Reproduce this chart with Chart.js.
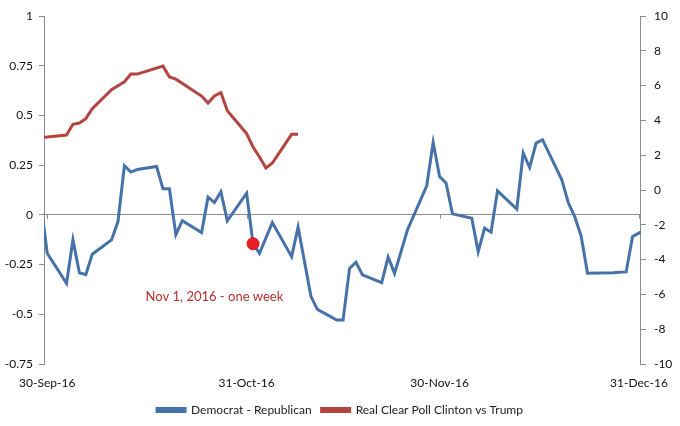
<!DOCTYPE html>
<html>
<head>
<meta charset="utf-8">
<script src="https://cdn.jsdelivr.net/npm/chart.js@4"></script>
<style>
  html, body { margin: 0; padding: 0; background: #fff; }
  #wrap { width: 680px; height: 426px; }
</style>
</head>
<body>
<div id="wrap"><canvas id="chart"></canvas></div>
<script>
// === DATA ===
const seriesNames = ['Democrat - Republican', 'Real Clear Poll Clinton vs Trump'];

const blueDates = [
  '2016-09-29','2016-09-30','2016-10-03','2016-10-04','2016-10-05','2016-10-06','2016-10-07',
  '2016-10-10','2016-10-11','2016-10-12','2016-10-13','2016-10-14','2016-10-17','2016-10-18',
  '2016-10-19','2016-10-20','2016-10-21','2016-10-24','2016-10-25','2016-10-26','2016-10-27',
  '2016-10-28','2016-10-31','2016-11-01','2016-11-02','2016-11-03','2016-11-04','2016-11-07',
  '2016-11-08','2016-11-09','2016-11-10','2016-11-11','2016-11-14','2016-11-15','2016-11-16',
  '2016-11-17','2016-11-18','2016-11-21','2016-11-22','2016-11-23','2016-11-25','2016-11-28',
  '2016-11-29','2016-11-30','2016-12-01','2016-12-02','2016-12-05','2016-12-06','2016-12-07',
  '2016-12-08','2016-12-09','2016-12-12','2016-12-13','2016-12-14','2016-12-15','2016-12-16',
  '2016-12-19','2016-12-20','2016-12-21','2016-12-22','2016-12-23','2016-12-27','2016-12-28',
  '2016-12-29','2016-12-30','2017-01-03'
];
const blueValues = [
  0.06, -0.193, -0.344, -0.126, -0.291, -0.301, -0.198,
  -0.126, -0.034, 0.247, 0.215, 0.228, 0.243, 0.131,
  0.131, -0.10, -0.029, -0.089, 0.089, 0.062, 0.116,
  -0.03, 0.109, -0.145, -0.193, -0.116, -0.039, -0.21,
  -0.062, -0.236, -0.41, -0.475, -0.529, -0.529, -0.269,
  -0.238, -0.302, -0.341, -0.213, -0.294, -0.076, 0.146,
  0.364, 0.193, 0.16, 0.005, -0.017, -0.185, -0.067,
  -0.087, 0.121, 0.029, 0.311, 0.238, 0.361, 0.378,
  0.176, 0.062, -0.009, -0.106, -0.294, -0.291, -0.289,
  -0.287, -0.109, -0.04
];

const redDates = [
  '2016-09-29','2016-09-30','2016-10-03','2016-10-04','2016-10-05','2016-10-06','2016-10-07','2016-10-10',
  '2016-10-12','2016-10-13','2016-10-14','2016-10-18','2016-10-19','2016-10-20','2016-10-24',
  '2016-10-25','2016-10-26','2016-10-27','2016-10-28','2016-10-31','2016-11-01','2016-11-02',
  '2016-11-03','2016-11-04','2016-11-07','2016-11-08'
];
const redValues = [
  3.02, 3.04, 3.16, 3.78, 3.85, 4.1, 4.67, 5.77,
  6.22, 6.66, 6.66, 7.12, 6.5, 6.37, 5.4,
  5.0, 5.4, 5.6, 4.55, 3.24, 2.47, 1.9,
  1.26, 1.55, 3.2, 3.2
];

const markerDate = '2016-11-01';
const annotationText = 'Nov 1, 2016 - one week';
const annotationDate = '2016-10-26';
const annotationValue = -0.41;

const tickDates = ['2016-09-30','2016-10-31','2016-11-30','2016-12-31'];
const tickLabels = ['30-Sep-16','31-Oct-16','30-Nov-16','31-Dec-16'];

// days since 30-Sep-16
const dayOf = s => { const [y,m,d] = s.split('-').map(Number); return (Date.UTC(y,m-1,d) - Date.UTC(2016,8,30)) / 86400000; };

const FONT = 'Lato, "Open Sans", sans-serif';
const BLUE = '#4572a8';
const RED = '#b3443f';
const AXIS = '#8c8c8c';

const bluePts = blueDates.map((d,i) => ({ x: dayOf(d), y: blueValues[i] }));
const redPts = redDates.map((d,i) => ({ x: dayOf(d), y: redValues[i] }));
const markerPts = [{ x: dayOf(markerDate), y: blueValues[blueDates.indexOf(markerDate)] }];
const tickDays = tickDates.map(dayOf);

// small month tick marks on the zero line + the red note
const annotate = {
  id: 'annotate',
  beforeDatasetsDraw(chart) {
    const c = chart.ctx, xs = chart.scales.x, y0 = chart.scales.y.getPixelForValue(0);
    c.save();
    c.strokeStyle = AXIS; c.lineWidth = 1;
    xs.ticks.forEach(t => {
      const px = Math.round(xs.getPixelForValue(t.value)) + 0.5;
      c.beginPath(); c.moveTo(px, y0); c.lineTo(px, y0 + 4); c.stroke();
    });
    c.restore();
  },
  afterDatasetsDraw(chart) {
    const c = chart.ctx, xs = chart.scales.x, ys = chart.scales.y;
    c.save();
    c.font = '13px ' + FONT;
    c.fillStyle = '#b52f2c';
    c.textAlign = 'center';
    c.textBaseline = 'middle';
    c.fillText(annotationText, xs.getPixelForValue(dayOf(annotationDate)), ys.getPixelForValue(annotationValue));
    c.restore();
  }
};

new Chart(document.getElementById('chart'), {
  type: 'line',
  data: {
    datasets: [
      { label: seriesNames[0], data: bluePts, yAxisID: 'y', borderColor: BLUE, backgroundColor: BLUE, borderWidth: 3, pointRadius: 0, tension: 0, order: 2 },
      { label: seriesNames[1], data: redPts, yAxisID: 'y2', borderColor: RED, backgroundColor: RED, borderWidth: 3, pointRadius: 0, tension: 0, order: 3 },
      { label: 'marker', data: markerPts, yAxisID: 'y', showLine: false, pointRadius: 6, pointBackgroundColor: '#ec1c24', pointBorderColor: '#d01018', pointBorderWidth: 1, order: 1 }
    ]
  },
  options: {
    responsive: true,
    maintainAspectRatio: false,
    animation: false,
    layout: { padding: { top: 16, left: 0, right: 0, bottom: 0 } },
    plugins: {
      legend: {
        position: 'bottom',
        labels: {
          filter: item => item.text !== 'marker',
          boxWidth: 28, boxHeight: 3, padding: 10,
          color: '#222', font: { family: FONT, size: 12 }
        }
      },
      tooltip: { enabled: false }
    },
    scales: {
      x: {
        type: 'linear', min: -0.5, max: 92.3,
        afterBuildTicks: s => { s.ticks = tickDays.map(v => ({ value: v })); },
        afterFit: s => { s.height = 30; },
        ticks: { color: '#111', padding: 12, maxRotation: 0, autoSkip: false, font: { family: FONT, size: 12 },
          callback: v => tickLabels[tickDays.indexOf(v)] },
        grid: { display: false, drawTicks: false },
        border: { display: false }
      },
      y: {
        position: 'left', min: -0.75, max: 1,
        afterFit: s => { s.width = 44; },
        ticks: { stepSize: 0.25, color: '#111', padding: 6, font: { family: FONT, size: 12 }, callback: v => String(v) },
        grid: { color: c => (c.tick && c.tick.value === 0) ? AXIS : 'transparent', tickColor: AXIS, tickLength: 5, lineWidth: 1 },
        border: { display: true, color: AXIS }
      },
      y2: {
        position: 'right', min: -10, max: 10,
        afterFit: s => { s.width = 36; },
        ticks: { stepSize: 2, color: '#111', padding: 8, font: { family: FONT, size: 12 } },
        grid: { drawOnChartArea: false, tickColor: AXIS, tickLength: 5 },
        border: { display: true, color: AXIS }
      }
    }
  },
  plugins: [annotate]
});
</script>
</body>
</html>
